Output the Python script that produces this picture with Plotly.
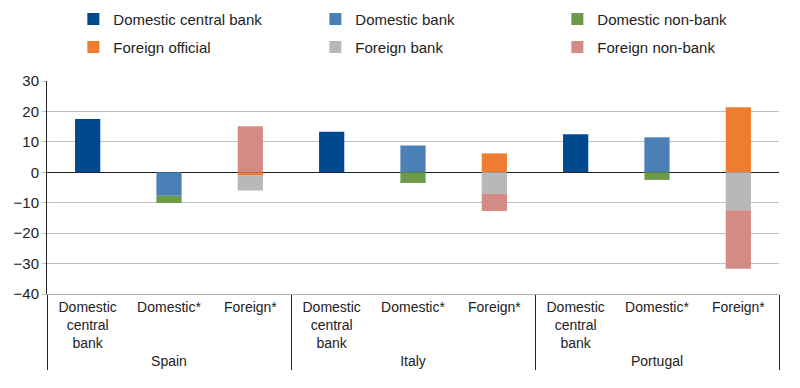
import plotly.graph_objects as go

countries = ["Spain"] * 3 + ["Italy"] * 3 + ["Portugal"] * 3
holders = ["Domestic<br>central<br>bank", "Domestic*", "Foreign*"] * 3

series_names = ["Domestic central bank", "Domestic bank", "Domestic non-bank",
                "Foreign official", "Foreign bank", "Foreign non-bank"]
dom_central_bank = [17.5, None, None, 13.3, None, None, 12.5, None, None]
dom_bank = [None, -7.7, None, None, 8.8, None, None, 11.5, None]
dom_non_bank = [None, -2.4, None, None, -3.5, None, None, -2.5, None]
for_official = [None, None, -1.1, None, None, 6.2, None, None, 21.4]
for_bank = [None, None, -4.9, None, None, -7.1, None, None, -12.5]
for_non_bank = [None, None, 15.1, None, None, -5.6, None, None, -19.2]

colors = ["#00498f", "#4a80b6", "#6b9a48", "#ef7d31", "#b8b8b8", "#d38b86"]
values = [dom_central_bank, dom_bank, dom_non_bank, for_official, for_bank, for_non_bank]
legend_ids = ["legend", "legend", "legend", "legend2", "legend2", "legend2"]

FONT = "Liberation Sans Narrow, Arial Narrow, Liberation Sans, Arial, sans-serif"

fig = go.Figure()
for name, vals, col, lg in zip(series_names, values, colors, legend_ids):
    fig.add_trace(go.Bar(x=[countries, holders], y=vals, name=name, legend=lg,
                         marker=dict(color=col, line=dict(width=0))))

leg_common = dict(orientation="h", x=0.036, xanchor="left", yanchor="middle",
                  entrywidth=197, font=dict(size=15, family=FONT, color="#222222"),
                  itemwidth=30, traceorder="normal", bgcolor="rgba(0,0,0,0)")

fig.update_layout(
    width=800, height=388,
    barmode="relative", bargap=0.69,
    plot_bgcolor="white", paper_bgcolor="white",
    margin=dict(l=47, r=21, t=81, b=94, autoexpand=False),
    font=dict(family=FONT, size=14, color="#222222"),
    legend=dict(y=1.29, **leg_common),
    legend2=dict(y=1.158, **leg_common),
    showlegend=True,
)
fig.update_yaxes(range=[-40, 30], dtick=10, showgrid=True, gridcolor="#c0c0c0", gridwidth=1,
                 zeroline=True, zerolinecolor="#222222", zerolinewidth=1,
                 showline=True, linecolor="#222222", linewidth=1,
                 ticks="outside", ticklen=4, tickcolor="#c0c0c0",
                 tickfont=dict(size=15), automargin=False)
fig.update_xaxes(showline=True, linecolor="#b0b0b0", linewidth=1, ticks="",
                 showdividers=True, dividercolor="#222222", dividerwidth=1,
                 tickfont=dict(size=14), automargin=False)

fig.write_html("out.html", config={"displayModeBar": False},
               post_script="document.body.style.margin='0px';")
